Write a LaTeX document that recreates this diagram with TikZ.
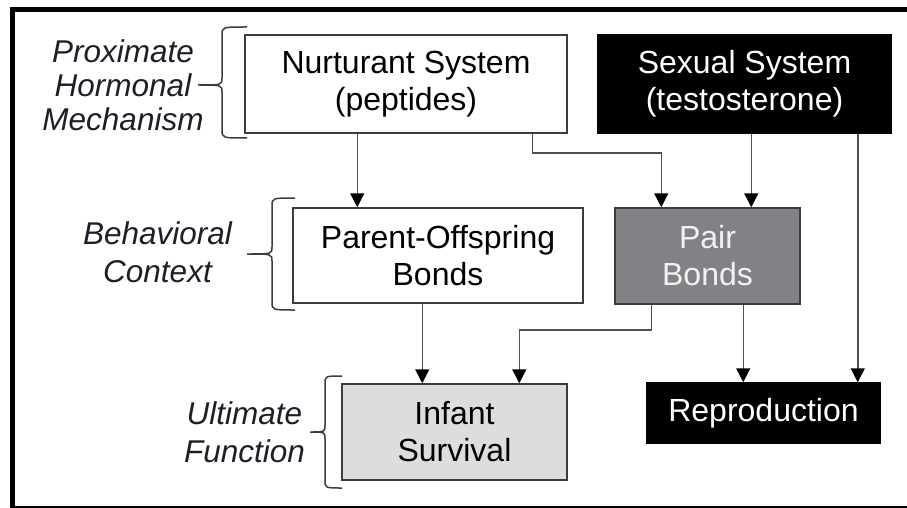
\documentclass[tikz,border=0pt]{standalone}
\usepackage{fontspec}
\setmainfont{Liberation Sans}
\usetikzlibrary{arrows.meta}
\definecolor{edge}{HTML}{3C3C3C}
\definecolor{conn}{HTML}{505050}
\definecolor{pairfill}{HTML}{808285}
\definecolor{pairtext}{HTML}{F2F2F2}
\definecolor{infantfill}{HTML}{DCDDDC}
\definecolor{labeltext}{HTML}{1E1E28}
\begin{document}
\begin{tikzpicture}[x=1pt,y=-1pt,
  box/.style={draw=edge,line width=1.5pt,align=center,inner sep=0pt,
    font=\fontsize{32}{37}\selectfont},
  whitebox/.style={box,fill=white,text=black},
  blackbox/.style={box,fill=black,draw=black,text=white},
  lbl/.style={align=center,inner sep=0pt,text=labeltext,
    font=\fontsize{31.5}{38}\selectfont\itshape},
  arr/.style={draw=conn,line width=1.5pt,
    -{Triangle[length=14pt,width=14pt,color=black]}},
  bracepath/.style={draw=edge,line width=1.5pt},
  frameline/.style={draw=black}]
\useasboundingbox (0,0) rectangle (907,508);
% outer frame (open on the right)
\draw[frameline,line width=5pt] (12.5,7) -- (12.5,508);
\draw[frameline,line width=4.5pt] (10,9.5) -- (907,9.5);
\draw[frameline,line width=2pt] (10,506.5) -- (907,506.5);

% boxes
\node[whitebox,minimum width=322pt,minimum height=98pt] (nurt) at (406,84)
  {Nurturant System\\(peptides)};
\node[blackbox,minimum width=293pt,minimum height=98pt] (sex) at (744.5,84)
  {Sexual System\\(testosterone)};
\node[whitebox,minimum width=290pt,minimum height=95pt] (parent) at (438,255.5)
  {Parent-Offspring\\Bonds};
\node[box,fill=pairfill,text=pairtext,minimum width=185pt,minimum height=96pt] (pair) at (707.5,256)
  {Pair\\Bonds};
\node[box,fill=infantfill,text=black,minimum width=225pt,minimum height=96pt] (infant) at (454.5,432)
  {Infant\\Survival};
\node[blackbox,minimum width=233pt,minimum height=60pt] (repro) at (763.5,413)
  {Reproduction};

% side labels
\node[lbl,font=\fontsize{31.5}{34}\selectfont\itshape] (prox) at (123,85)
  {Proximate\\Hormonal\\Mechanism};
\node[lbl] (behav) at (157.5,252) {Behavioral\\Context};
\node[lbl] (ult) at (244.5,432) {Ultimate\\Function};

% braces
\draw[bracepath] (247,27) .. controls (222,27) .. (222,35) -- (222,78)
  .. controls (222,85) .. (198,85) .. controls (222,85) .. (222,92)
  -- (222,130) .. controls (222,138) .. (247,138);
\draw[bracepath] (295,198) .. controls (272,198) .. (272,206) -- (272,247)
  .. controls (272,254) .. (247,254) .. controls (272,254) .. (272,261)
  -- (272,302) .. controls (272,310) .. (295,310);
\draw[bracepath] (342,376) .. controls (325,376) .. (325,384) -- (325,425)
  .. controls (325,432) .. (310,432) .. controls (325,432) .. (325,439)
  -- (325,480) .. controls (325,488) .. (342,488);

% connectors
\draw[arr] ([xshift=113pt]nurt.south west) -- ([xshift=113pt]nurt.south west |- parent.north);
\draw[arr] ([xshift=288pt]nurt.south west) -- ++(0,19) -| ([xshift=47pt]pair.north west);
\draw[arr] ([xshift=154pt]sex.south west) -- ([xshift=154pt]sex.south west |- pair.north);
\draw[arr] ([xshift=-34pt]sex.south east) -- ([xshift=-34pt]sex.south east |- repro.north);
\draw[arr] ([xshift=130pt]parent.south west) -- ([xshift=130pt]parent.south west |- infant.north);
\draw[arr] ([xshift=37pt]pair.south west) -- ++(0,25) -| ([xshift=178pt]infant.north west);
\draw[arr] ([xshift=129pt]pair.south west) -- ([xshift=129pt]pair.south west |- repro.north);
\end{tikzpicture}
\end{document}
